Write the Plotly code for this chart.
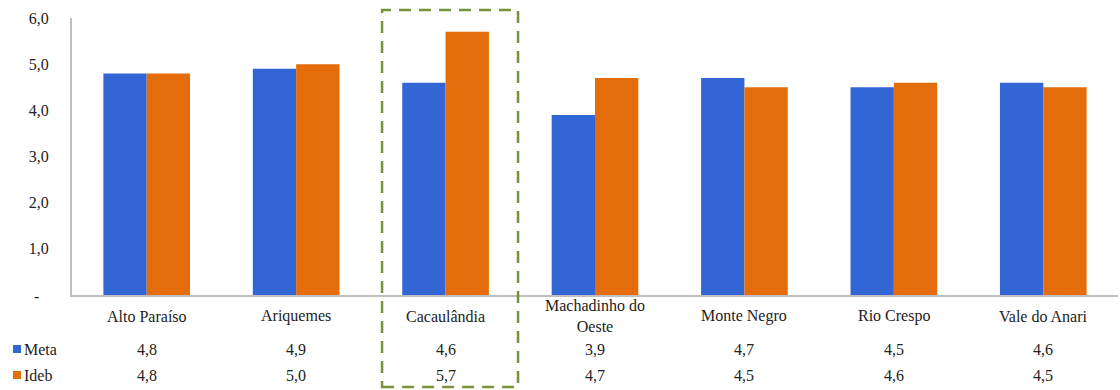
import plotly.graph_objects as go

categories = ["Alto Paraíso", "Ariquemes", "Cacaulândia", "Machadinho do<br>Oeste",
              "Monte Negro", "Rio Crespo", "Vale do Anari"]
meta = [4.8, 4.9, 4.6, 3.9, 4.7, 4.5, 4.6]
ideb = [4.8, 5.0, 5.7, 4.7, 4.5, 4.6, 4.5]
series_names = ["Meta", "Ideb"]
ytick_vals = [0, 1, 2, 3, 4, 5, 6]
ytick_text = ["", "1,0", "2,0", "3,0", "4,0", "5,0", "6,0"]

BLUE = "#3366D5"
ORANGE = "#E46C0A"
GREEN = "#77933C"
FONT = "Times New Roman, Times, DejaVu Serif, serif"
W, H = 1120, 390
L, R, T, B = 72, 2, 18, 95
PH = H - T - B  # plot height in px


def py(pix):
    """convert pixel y (from top) to paper coordinate"""
    return (H - B - pix) / PH


def px(pix):
    return (pix - L) / (W - L - R)


def fmt(v):
    return f"{v:.1f}".replace(".", ",")


fig = go.Figure()
fig.add_trace(go.Bar(x=list(range(len(categories))), y=meta, name=series_names[0],
                     marker=dict(color=BLUE, line=dict(width=0))))
fig.add_trace(go.Bar(x=list(range(len(categories))), y=ideb, name=series_names[1],
                     marker=dict(color=ORANGE, line=dict(width=0))))

TF = dict(family=FONT, size=16, color="#222")
annotations = []
for i, c in enumerate(categories):
    annotations.append(dict(x=i, y=py(316), xref="x", yref="paper", text=c,
                            showarrow=False, xanchor="center", yanchor="middle", font=TF))
    annotations.append(dict(x=i, y=py(349), xref="x", yref="paper", text=fmt(meta[i]),
                            showarrow=False, xanchor="center", yanchor="middle", font=TF))
    annotations.append(dict(x=i, y=py(375), xref="x", yref="paper", text=fmt(ideb[i]),
                            showarrow=False, xanchor="center", yanchor="middle", font=TF))
for name, ypix in zip(series_names, [349, 375]):
    annotations.append(dict(x=px(22), y=py(ypix), xref="paper", yref="paper", text=name,
                            showarrow=False, xanchor="left", yanchor="middle", font=TF))
annotations.append(dict(x=px(36), y=py(296), xref="paper", yref="paper", text="-",
                        showarrow=False, xanchor="center", yanchor="middle", font=TF))

shapes = []
for color, ypix in zip([BLUE, ORANGE], [349, 375]):
    shapes.append(dict(type="rect", xref="paper", yref="paper",
                       x0=px(13), x1=px(21), y0=py(ypix + 4), y1=py(ypix - 4),
                       fillcolor=color, line=dict(width=0)))
shapes.append(dict(type="rect", xref="x", yref="paper",
                   x0=2 - 0.425, x1=2 + 0.485, y0=py(387), y1=py(10),
                   line=dict(color=GREEN, width=2.5, dash="12px,8px"),
                   fillcolor="rgba(0,0,0,0)"))

fig.update_layout(
    width=W, height=H,
    margin=dict(l=L, r=R, t=T, b=B),
    paper_bgcolor="white", plot_bgcolor="white",
    barmode="group", bargap=0.42, bargroupgap=0,
    showlegend=False,
    font=TF,
    xaxis=dict(range=[-0.5, len(categories) - 0.5], showticklabels=False,
               showline=True, linecolor="#BFBFBF", linewidth=2, zeroline=False,
               showgrid=False, fixedrange=True),
    yaxis=dict(range=[0, 6], tickvals=ytick_vals, ticktext=ytick_text,
               showline=True, linecolor="#BFBFBF", linewidth=2, showgrid=False,
               zeroline=False, ticklabelstandoff=18, tickfont=TF, fixedrange=True),
    annotations=annotations,
    shapes=shapes,
)

fig.write_html("out.html")
